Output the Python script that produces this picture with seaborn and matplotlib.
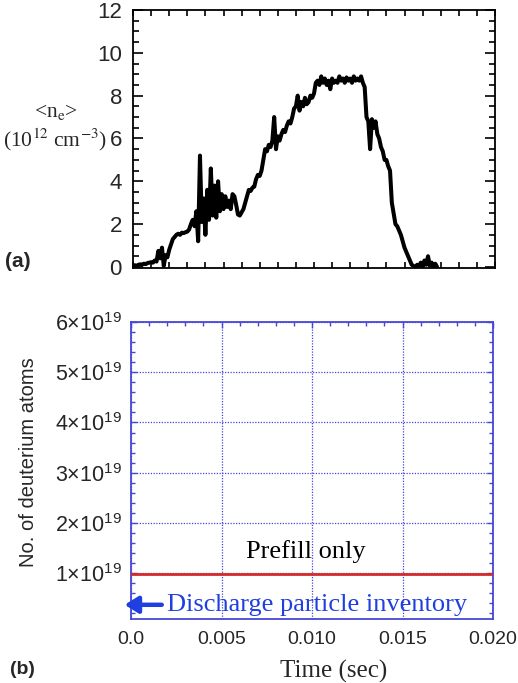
import numpy as np
import pandas as pd
import matplotlib
matplotlib.use("Agg")
import matplotlib.pyplot as plt
from matplotlib.ticker import MultipleLocator, FuncFormatter, NullFormatter
import seaborn as sns

# ---------------- data ----------------
# (a) line-averaged density <n_e> (10^12 cm^-3), sampled every 0.1 ms from t = 0
ne_time_step = 0.0001
ne_values = [
    0.05, 0.08, 0.04, 0.10, 0.12, 0.10, 0.15, 0.13, 0.18, 0.20,
    0.22, 0.20, 0.30, 0.25, 0.75, 0.40, 0.90, 0.05, 0.55, 0.45,
    0.80, 1.05, 1.30, 1.40, 1.50, 1.55, 1.50, 1.60, 1.58, 1.62,
    1.65, 1.75, 2.00, 2.20, 1.90, 2.60, 1.20, 5.20, 2.10, 3.20,
    1.50, 3.60, 2.20, 4.60, 2.40, 3.80, 2.30, 4.00, 2.60, 3.40,
    2.70, 3.30, 2.80, 3.10, 2.70, 3.40, 3.30, 2.90, 2.45, 2.40,
    2.55, 2.70, 3.00, 3.30, 3.60, 3.55, 3.70, 3.75, 4.10, 4.30,
    4.25, 4.50, 5.00, 5.50, 5.40, 5.70, 5.60, 5.90, 7.00, 5.50,
    6.10, 5.90, 6.20, 6.40, 6.30, 6.60, 6.80, 6.70, 7.00, 7.40,
    7.50, 8.00, 7.30, 7.70, 7.50, 7.90, 7.60, 7.70, 8.00, 7.90,
    8.10, 8.60, 8.70, 8.50, 8.90, 8.60, 8.80, 8.50, 8.70, 8.30,
    8.80, 8.60, 8.70, 8.60, 8.90, 8.70, 8.80, 8.60, 8.85, 8.70,
    8.80, 8.60, 8.90, 8.70, 8.80, 8.70, 8.90, 8.60, 8.40, 7.00,
    6.80, 5.50, 6.90, 6.50, 6.80, 6.20, 6.00, 5.60, 5.40, 5.00,
    5.00, 4.70, 4.50, 3.00, 2.50, 2.00, 1.90, 1.70, 1.50, 1.20,
    0.90, 0.70, 0.50, 0.30, 0.10, 0.05, 0.00, 0.10, 0.05, 0.20,
    0.00, 0.30, 0.10, 0.50, 0.05, 0.20, 0.00, 0.15, 0.00,
]
ne_time = [i * ne_time_step for i in range(len(ne_values))]

# (b) number of deuterium atoms: prefill only
inv_time = [0.0, 0.020]
inv_values = [0.98e19, 0.98e19]

y_ticks_a = [0, 2, 4, 6, 8, 10, 12]
x_ticks_b = [0.0, 0.005, 0.010, 0.015, 0.020]
x_tick_labels_b = ["0.0", "0.005", "0.010", "0.015", "0.020"]
y_ticks_b = [1e19, 2e19, 3e19, 4e19, 5e19, 6e19]

# ---------------- style ----------------
sns.set_style("ticks")
plt.rcParams["font.family"] = ["Liberation Sans", "DejaVu Sans"]
plt.rcParams["mathtext.fontset"] = "custom"
plt.rcParams["mathtext.rm"] = "Liberation Sans"
plt.rcParams["mathtext.it"] = "Liberation Sans:italic"
plt.rcParams["mathtext.bf"] = "Liberation Sans:bold"

SERIF = ["Liberation Serif", "DejaVu Serif"]
FRAME_BLUE = "#4646d8"
TEXT_BLUE = "#1f3fe0"

fig = plt.figure(figsize=(5.18, 6.83), dpi=100)
ax1 = fig.add_axes([133 / 518, 1 - 268 / 683, 362 / 518, 258 / 683])
ax2 = fig.add_axes([131 / 518, 1 - 619 / 683, 362 / 518, 297 / 683])

# ---------------- panel (a) ----------------
df_a = pd.DataFrame({"t": ne_time, "ne": ne_values})
sns.lineplot(data=df_a, x="t", y="ne", ax=ax1, color="black", lw=2.9,
             estimator=None, sort=False)
ax1.set_xlim(0, 0.020)
ax1.set_ylim(-0.05, 12)
ax1.set_yticks(y_ticks_a)
ax1.yaxis.set_minor_locator(MultipleLocator(0.5))
ax1.xaxis.set_major_locator(MultipleLocator(0.001))
ax1.xaxis.set_major_formatter(NullFormatter())
ax1.set_xlabel("")
ax1.set_ylabel("")
for s in ax1.spines.values():
    s.set_linewidth(1.3)
    s.set_color("black")
ax1.tick_params(axis="both", which="both", direction="in", top=True, right=True,
                color="black", width=1.2)
ax1.tick_params(axis="y", which="major", length=7, labelsize=16, pad=8)
ax1.tick_params(axis="y", which="minor", length=4)
ax1.tick_params(axis="x", which="major", length=4)

fig.text(56 / 518, 1 - 112 / 683, r"<n$_{\mathrm{e}}$>", ha="center", va="center",
         fontsize=15.5, family=SERIF, math_fontfamily="stix")
fig.text(55 / 518, 1 - 140 / 683, r"(10$^{12}$ cm$^{-3}$)", ha="center", va="center",
         fontsize=15.5, family=SERIF, math_fontfamily="stix")
fig.text(5 / 518, 1 - 262 / 683, "(a)", ha="left", va="center",
         fontsize=15, fontweight="bold")

# ---------------- panel (b) ----------------
df_b = pd.DataFrame({"t": inv_time, "n": inv_values})
sns.lineplot(data=df_b, x="t", y="n", ax=ax2, color="#d42a2a", lw=2.0,
             estimator=None, sort=False, zorder=4)
ax2.set_xlim(0, 0.020)
ax2.set_ylim(0.087e19, 6.0e19)
ax2.set_xticks(x_ticks_b)
ax2.set_xticklabels(x_tick_labels_b)
ax2.set_yticks(y_ticks_b)
ax2.yaxis.set_major_formatter(FuncFormatter(lambda v, p: f"{int(round(v / 1e19))}×10$^{{19}}$"))
ax2.xaxis.set_minor_locator(MultipleLocator(0.001))
ax2.yaxis.set_minor_locator(MultipleLocator(0.2e19))
ax2.set_xlabel("Time (sec)", family=SERIF, fontsize=18)
ax2.xaxis.set_label_coords(0.559, -0.138)
ax2.set_ylabel("No. of deuterium atoms", fontsize=14.5)
ax2.yaxis.set_label_coords(-0.257, 0.529)
ax2.grid(True, which="major", color=FRAME_BLUE, ls=(0, (1, 1.2)), lw=0.9)
for s in ax2.spines.values():
    s.set_linewidth(1.3)
    s.set_color(FRAME_BLUE)
ax2.tick_params(axis="both", which="both", direction="in", left=True, right=True,
                top=True, bottom=False, color=FRAME_BLUE, width=1.0)
ax2.tick_params(axis="both", which="major", length=4)
ax2.tick_params(axis="x", which="major", pad=9, labelsize=14)
ax2.tick_params(axis="y", which="major", pad=7, labelsize=15.5)
ax2.tick_params(axis="both", which="minor", length=3)

ax2.text(0.00967, 1.3e19, "Prefill only", ha="center", va="baseline",
         fontsize=19, family=SERIF, color="black", zorder=5)
ax2.annotate("", xy=(-0.00035, 0.37e19), xytext=(0.0017, 0.37e19),
             arrowprops=dict(arrowstyle="-|>,head_length=0.8,head_width=0.5",
                             color=TEXT_BLUE, lw=3.2, shrinkA=0, shrinkB=0),
             annotation_clip=False, zorder=5)
ax2.text(0.00198, 0.37e19, "Discharge particle inventory", ha="left", va="center",
         fontsize=19, family=SERIF, color=TEXT_BLUE, zorder=5)

fig.text(10 / 518, 1 - 670 / 683, "(b)", ha="left", va="center",
         fontsize=14, fontweight="bold")

fig.savefig("out.png", dpi=100)
